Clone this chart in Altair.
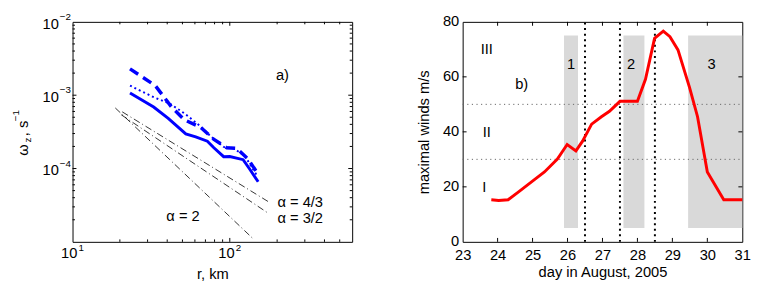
import altair as alt
import pandas as pd

FONT = "Liberation Sans"

# ---------------- panel a) data ----------------
r_solid = [23.2, 32.8, 40.6, 52.5, 60.7, 72.0, 79.2, 91.4, 100.0, 121.6, 133.0, 151.5]
w_solid = [1.07e-3, 6.9e-4, 4.83e-4, 2.96e-4, 2.70e-4, 2.36e-4, 1.92e-4, 1.45e-4, 1.46e-4, 1.32e-4, 1.0e-4, 6.6e-5]

r_dash = [23.2, 33.6, 42.6, 51.5, 65.4, 79.3, 95.7, 110.4, 130.6, 150.7]
w_dash = [2.29e-3, 1.35e-3, 6.9e-4, 4.6e-4, 3.63e-4, 2.49e-4, 1.92e-4, 1.89e-4, 1.35e-4, 8.5e-5]

r_dot = [23.2, 32.8, 41.6, 51.5, 65.4, 75.5, 91.4, 105.4, 124.5, 150.7]
w_dot = [1.35e-3, 9.4e-4, 7.66e-4, 5.64e-4, 3.74e-4, 2.75e-4, 1.97e-4, 1.89e-4, 1.49e-4, 7.66e-5]

# reference power-law lines (endpoints)
ref_name = ["a2", "a2", "a43", "a43", "a32", "a32"]
ref_r = [18.7, 139.0, 20.7, 177.0, 20.4, 174.0]
ref_w = [6.7e-4, 1.13e-5, 5.93e-4, 3.5e-5, 5.41e-4, 2.49e-5]

ann_a_text = ["a)", "α = 4/3", "α = 3/2"]
ann_a_r = [216.0, 201.0, 201.0]
ann_a_w = [1.9e-3, 3.52e-5, 2.09e-5]
ann_a_align = ["center", "left", "left"]

xmajor_a = [10, 100]
xmajor_exp = ["1", "2"]
ymajor_a = [1e-2, 1e-3, 1e-4]
ymajor_exp = ["\u22122", "\u22123", "\u22124"]
xminor_a = [20, 30, 40, 50, 60, 70, 80, 90, 200, 300, 400, 500]
yminor_a = [k * 10.0 ** e for e in (-5, -4, -3) for k in range(2, 10)]

# ---------------- panel b) data ----------------
day = [23.82, 24.03, 24.30, 24.60, 24.97, 25.34, 25.71, 25.99, 26.24, 26.43, 26.69, 26.97,
       27.20, 27.50, 28.00, 28.23, 28.49, 28.74, 28.93, 29.16, 29.49, 29.72, 30.00, 30.47, 31.00]
wind = [15.3, 15.05, 15.3, 18.2, 21.8, 25.4, 30.1, 35.4, 33.1, 36.6, 42.8, 45.5,
        47.5, 51.1, 51.1, 59.1, 74.0, 76.6, 74.6, 69.8, 56.2, 45.5, 25.4, 15.3, 15.3]

rect_x1 = [25.9, 27.6, 29.45]
rect_x2 = [26.3, 28.2, 31.0]
rect_y1 = [5, 5, 5]
rect_y2 = [75, 75, 75]

vlines = [26.5, 27.5, 28.5]
hlines = [30, 50]

ann_b_text = ["III", "II", "I", "b)", "1", "2", "3"]
ann_b_x = [23.69, 23.69, 23.62, 24.69, 26.1, 27.82, 30.12]
ann_b_y = [70, 40, 20, 57.4, 64.5, 64.5, 64.5]

xticks_b = [23, 24, 25, 26, 27, 28, 29, 30, 31]
yticks_b = [0, 20, 40, 60, 80]

W, H = 286, 225

# ================= panel a =================
xs = alt.Scale(type="log", domain=[10, 600], nice=False)
ys = alt.Scale(type="log", domain=[1e-5, 1e-2], nice=False)

def line_a(r, w, **mk):
    df = pd.DataFrame({"r": r, "w": w, "i": range(len(r))})
    return alt.Chart(df).mark_line(**mk).encode(
        x=alt.X("r:Q", scale=xs, axis=alt.Axis(labels=False, title="r, km", titlePadding=25, grid=False)),
        y=alt.Y("w:Q", scale=ys, axis=alt.Axis(labels=False, title=None, grid=False)),
        order="i:Q",
    )

ref_df = pd.DataFrame({"name": ref_name, "r": ref_r, "w": ref_w})
ref_lines = alt.Chart(ref_df).mark_line(color="black", strokeWidth=0.8, strokeDash=[7, 3, 1, 3]).encode(
    x=alt.X("r:Q", scale=xs), y=alt.Y("w:Q", scale=ys), detail="name:N")

solid = line_a(r_solid, w_solid, color="#0000ff", strokeWidth=3)
dotted = line_a(r_dot, w_dot, color="#0000ff", strokeWidth=2, strokeDash=[2, 3])
dashed = line_a(r_dash, w_dash, color="#0000ff", strokeWidth=3.5, strokeDash=[10, 6])

ann_a_df = pd.DataFrame({"t": ann_a_text, "r": ann_a_r, "w": ann_a_w, "al": ann_a_align})
ann_a_c = alt.Chart(ann_a_df[ann_a_df.al == "center"]).mark_text(
    font=FONT, fontSize=15, align="center", baseline="middle", color="black").encode(
    x=alt.X("r:Q", scale=xs), y=alt.Y("w:Q", scale=ys), text="t:N")
ann_a_l = alt.Chart(ann_a_df[ann_a_df.al == "left"]).mark_text(
    font=FONT, fontSize=15, align="left", baseline="middle", color="black").encode(
    x=alt.X("r:Q", scale=xs), y=alt.Y("w:Q", scale=ys), text="t:N")
alpha2 = alt.Chart(pd.DataFrame({"t": ["α = 2"], "r": [50.4], "w": [2.22e-5]})).mark_text(
    font=FONT, fontSize=15, align="center", baseline="middle", color="black").encode(
    x=alt.X("r:Q", scale=xs), y=alt.Y("w:Q", scale=ys), text="t:N")

# tick labels with superscript exponents
xl_df = pd.DataFrame({"r": xmajor_a, "b": ["10", "10"], "e": xmajor_exp})
xl_base = alt.Chart(xl_df).mark_text(font=FONT, fontSize=15, align="right", baseline="middle", dx=5,
                                     color="black").encode(
    x=alt.X("r:Q", scale=xs), y=alt.value(H + 12), text="b:N")
xl_exp = alt.Chart(xl_df).mark_text(font=FONT, fontSize=10, align="left", baseline="middle", dx=6,
                                    color="black").encode(
    x=alt.X("r:Q", scale=xs), y=alt.value(H + 6), text="e:N")
yl_df = pd.DataFrame({"w": ymajor_a, "b": ["10"] * 3, "e": ymajor_exp})
yl_base = alt.Chart(yl_df).mark_text(font=FONT, fontSize=15, align="right", baseline="middle", dy=2,
                                     color="black").encode(
    y=alt.Y("w:Q", scale=ys), x=alt.value(-14), text="b:N")
yl_exp = alt.Chart(yl_df).mark_text(font=FONT, fontSize=10, align="left", baseline="middle", dy=-5,
                                    color="black").encode(
    y=alt.Y("w:Q", scale=ys), x=alt.value(-13), text="e:N")

# y title: omega_z, s^-1 built from pieces (rotated)
yt_df = pd.DataFrame({"t": ["ω", "z", ", s", "\u22121"],
                      "px": [-51, -45, -51, -58],
                      "py": [131, 121, 109, 96],
                      "fs": [15, 10, 15, 10]})
ytitle_big = alt.Chart(yt_df[yt_df.fs == 15]).mark_text(font=FONT, fontSize=15, angle=270, align="center",
                                                         baseline="middle", color="black").encode(
    x=alt.X("px:Q", scale=None), y=alt.Y("py:Q", scale=None), text="t:N")
ytitle_small = alt.Chart(yt_df[yt_df.fs == 10]).mark_text(font=FONT, fontSize=10, angle=270, align="center",
                                                           baseline="middle", color="black").encode(
    x=alt.X("px:Q", scale=None), y=alt.Y("py:Q", scale=None), text="t:N")

# inward ticks
xmin_df = pd.DataFrame({"r": xminor_a})
ymin_df = pd.DataFrame({"w": yminor_a})
xmaj_df = pd.DataFrame({"r": [100]})
ymaj_df = pd.DataFrame({"w": [1e-3, 1e-4]})
tk = dict(color="black", strokeWidth=1)
ticks_a = [
    alt.Chart(xmin_df).mark_rule(**tk).encode(x=alt.X("r:Q", scale=xs), y=alt.value(H), y2=alt.value(H - 2.5)),
    alt.Chart(xmin_df).mark_rule(**tk).encode(x=alt.X("r:Q", scale=xs), y=alt.value(0), y2=alt.value(2.5)),
    alt.Chart(xmaj_df).mark_rule(**tk).encode(x=alt.X("r:Q", scale=xs), y=alt.value(H), y2=alt.value(H - 4)),
    alt.Chart(xmaj_df).mark_rule(**tk).encode(x=alt.X("r:Q", scale=xs), y=alt.value(0), y2=alt.value(4)),
    alt.Chart(ymin_df).mark_rule(**tk).encode(y=alt.Y("w:Q", scale=ys), x=alt.value(0), x2=alt.value(2.5)),
    alt.Chart(ymin_df).mark_rule(**tk).encode(y=alt.Y("w:Q", scale=ys), x=alt.value(W), x2=alt.value(W - 2.5)),
    alt.Chart(ymaj_df).mark_rule(**tk).encode(y=alt.Y("w:Q", scale=ys), x=alt.value(0), x2=alt.value(4)),
    alt.Chart(ymaj_df).mark_rule(**tk).encode(y=alt.Y("w:Q", scale=ys), x=alt.value(W), x2=alt.value(W - 4)),
]

panel_a = alt.layer(
    solid, ref_lines, dotted, dashed, ann_a_c, ann_a_l, alpha2,
    xl_base, xl_exp, yl_base, yl_exp, ytitle_big, ytitle_small, *ticks_a
).properties(width=W, height=H)

# ================= panel b =================
xb = alt.Scale(domain=[23, 31], nice=False)
yb = alt.Scale(domain=[0, 80], nice=False)
xaxis_b = alt.Axis(values=xticks_b, title="day in August, 2005", labelPadding=6, titlePadding=2,
                   labelFlush=False, labelOverlap=False, grid=False)
yaxis_b = alt.Axis(values=yticks_b, title="maximal winds m/s", labelPadding=4, titlePadding=11,
                   labelOverlap=False, grid=False, labelOffset=-1)

def XB(f):
    return alt.X(f, scale=xb, axis=xaxis_b)

def YB(f):
    return alt.Y(f, scale=yb, axis=yaxis_b)

rect_df = pd.DataFrame({"x1": rect_x1, "x2": rect_x2, "y1": rect_y1, "y2": rect_y2})
rects = alt.Chart(rect_df).mark_rect(color="#d9d9d9").encode(
    x=XB("x1:Q"), x2="x2:Q", y=YB("y1:Q"), y2="y2:Q")

h_df = pd.DataFrame({"y": hlines, "a": [23, 23], "b": [31, 31]})
hl = alt.Chart(h_df).mark_rule(color="#666666", strokeWidth=1, strokeDash=[1.2, 3.5]).encode(
    y=YB("y:Q"), x=XB("a:Q"), x2="b:Q")
v_df = pd.DataFrame({"x": vlines, "a": [0, 0, 0], "b": [80, 80, 80]})
vl = alt.Chart(v_df).mark_rule(color="black", strokeWidth=2, strokeDash=[2, 3.7]).encode(
    x=XB("x:Q"), y=YB("a:Q"), y2="b:Q")

w_df = pd.DataFrame({"d": day, "v": wind, "i": range(len(day))})
red = alt.Chart(w_df).mark_line(color="#ff0000", strokeWidth=3).encode(
    x=XB("d:Q"), y=YB("v:Q"), order="i:Q")

ann_b_df = pd.DataFrame({"t": ann_b_text, "x": ann_b_x, "y": ann_b_y})
ann_b = alt.Chart(ann_b_df).mark_text(font=FONT, fontSize=15, align="center", baseline="middle",
                                      color="black").encode(
    x=XB("x:Q"), y=YB("y:Q"), text="t:N")

xt_df = pd.DataFrame({"x": xticks_b[1:-1]})
yt_df2 = pd.DataFrame({"y": yticks_b[1:-1]})
ticks_b = [
    alt.Chart(xt_df).mark_rule(**tk).encode(x=XB("x:Q"), y=alt.value(H), y2=alt.value(H - 4)),
    alt.Chart(xt_df).mark_rule(**tk).encode(x=XB("x:Q"), y=alt.value(0), y2=alt.value(4)),
    alt.Chart(yt_df2).mark_rule(**tk).encode(y=YB("y:Q"), x=alt.value(0), x2=alt.value(4)),
    alt.Chart(yt_df2).mark_rule(**tk).encode(y=YB("y:Q"), x=alt.value(W), x2=alt.value(W - 4)),
]

panel_b = alt.layer(rects, hl, vl, red, ann_b, *ticks_b).properties(width=W, height=H)

chart = alt.hconcat(panel_a, panel_b, spacing=64).properties(
    padding={"left": 2, "top": 0, "right": 4, "bottom": 2},
    background="white",
).configure_view(
    stroke="black", strokeWidth=1
).configure_axis(
    domain=False, ticks=False, tickSize=0, grid=False, labelOverlap=False,
    labelFont=FONT, labelFontSize=15, labelColor="black",
    titleFont=FONT, titleFontSize=15, titleFontWeight="normal", titleColor="black"
)

chart.save("out.html", embed_options={"renderer": "svg", "actions": False})
